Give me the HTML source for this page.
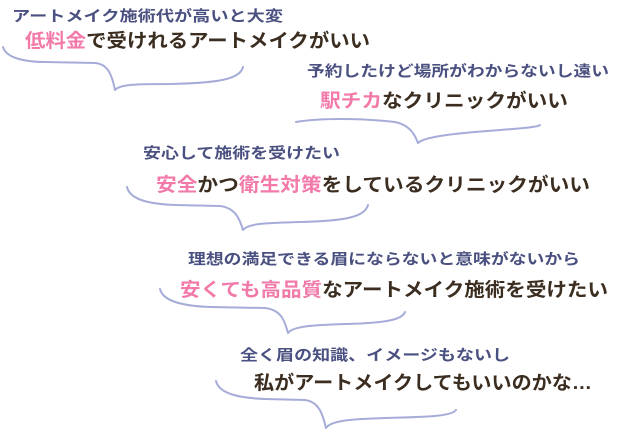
<!DOCTYPE html>
<html><head><meta charset="utf-8"><style>
html,body{margin:0;padding:0;background:#fff;}
svg{display:block}
.s{font-family:"Liberation Sans","Noto Sans CJK JP",sans-serif;font-weight:bold;font-size:15px;fill:#4a5080;}
.b{font-family:"Liberation Sans","Noto Sans CJK JP",sans-serif;font-weight:bold;font-size:19px;fill:#3b2d20;}
.p{fill:#f27aa9;}
.c{fill:none;stroke:#a6acd8;stroke-width:2;stroke-linecap:round;stroke-linejoin:round;}
</style></head><body>
<svg width="638" height="431" viewBox="0 0 638 431" xmlns="http://www.w3.org/2000/svg">
<path class="c" d="M3,47 C6,58 25,62 45,62 L95,63 C108,64 112,75 115,90 C120,84 140,84 170,84 C215,83 240,80 243,67"/>
<path class="c" d="M296,122 C320,118 360,118 395,122 C410,125 415,135 418,143 C425,136 460,133 500,130 C525,128 538,127 540,125"/>
<path class="c" d="M127,187 C130,200 150,204 175,205 L220,206 C236,208 240,220 243,230 C248,223 270,223 300,222 C345,221 365,217 368,205"/>
<path class="c" d="M160,289 C163,302 185,306 210,307 L265,308 C282,310 285,322 288,333 C293,326 315,325 345,324 C385,323 402,320 405,312"/>
<path class="c" d="M216,381 C219,394 240,398 265,399 L305,400 C320,402 323,416 326,428 C331,420 355,419 385,418 C430,417 452,416 456,410"/>

<text class="s" x="12" y="21" textLength="271" lengthAdjust="spacingAndGlyphs">アートメイク施術代が高いと大変</text>
<text class="b" x="25" y="47" textLength="345" lengthAdjust="spacingAndGlyphs"><tspan class="p">低料金</tspan>で受けれるアートメイクがいい</text>

<text class="s" x="307" y="76" textLength="302" lengthAdjust="spacingAndGlyphs">予約したけど場所がわからないし遠い</text>
<text class="b" x="320" y="107" textLength="248" lengthAdjust="spacingAndGlyphs"><tspan class="p">駅チカ</tspan>なクリニックがいい</text>

<text class="s" x="143" y="158" textLength="197" lengthAdjust="spacingAndGlyphs">安心して施術を受けたい</text>
<text class="b" x="156" y="191" textLength="434" lengthAdjust="spacingAndGlyphs"><tspan class="p">安全</tspan>かつ<tspan class="p">衛生対策</tspan>をしているクリニックがいい</text>

<text class="s" x="188" y="264" textLength="392" lengthAdjust="spacingAndGlyphs">理想の満足できる眉にならないと意味がないから</text>
<text class="b" x="180" y="296" textLength="428" lengthAdjust="spacingAndGlyphs"><tspan class="p">安くても高品質</tspan>なアートメイク施術を受けたい</text>

<text class="s" x="240" y="360" textLength="270" lengthAdjust="spacingAndGlyphs">全く眉の知識、イメージもないし</text>
<text class="b" x="254" y="389" textLength="338" lengthAdjust="spacingAndGlyphs">私がアートメイクしてもいいのかな…</text>
</svg>
</body></html>
